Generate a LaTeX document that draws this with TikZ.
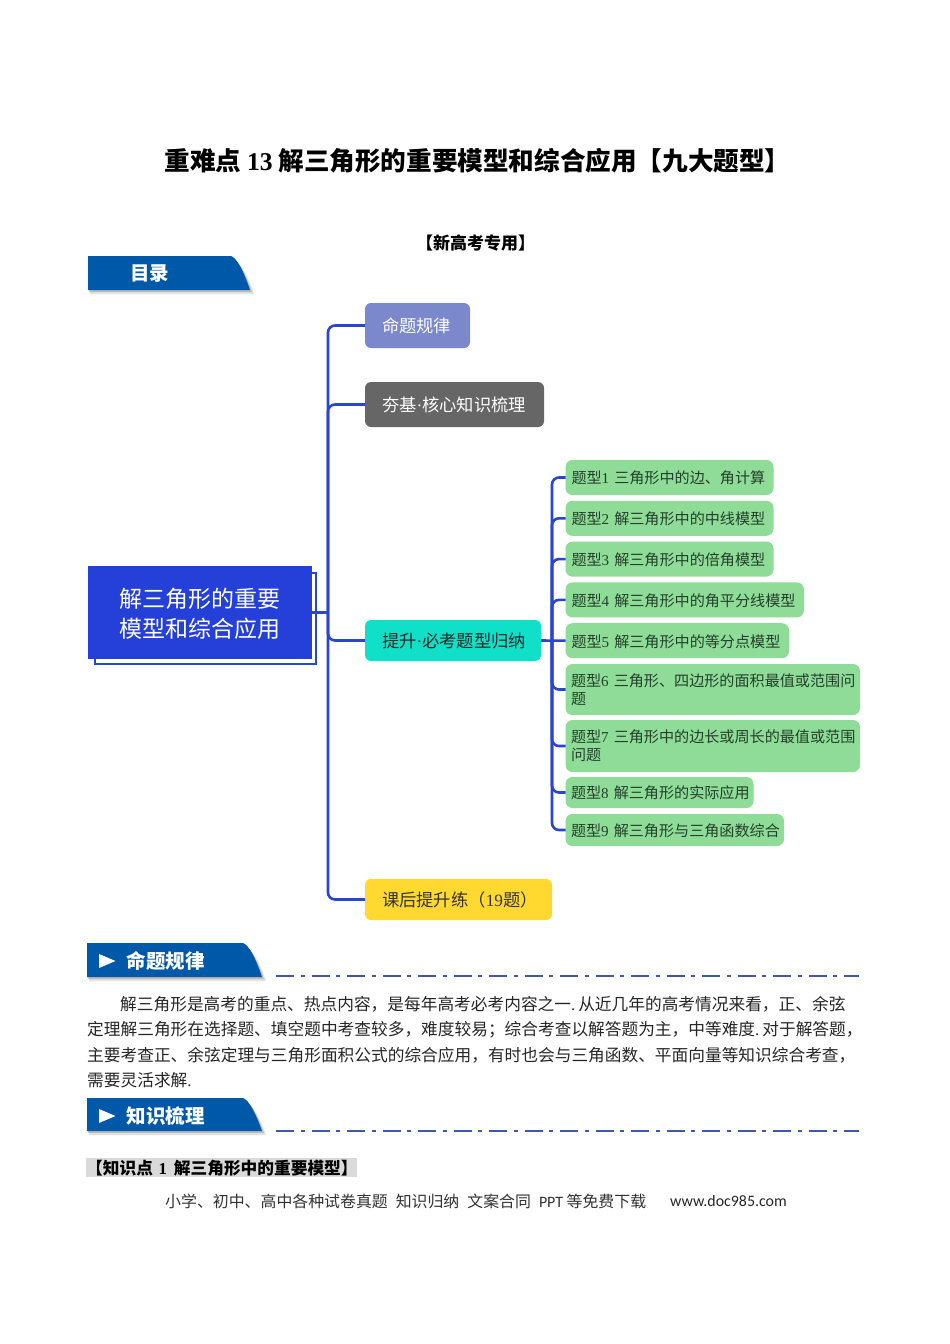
\documentclass[tikz,border=0pt]{standalone}
\usepackage{fontspec}
\setmainfont{Noto Sans CJK SC}
\newfontfamily\serifnum{Liberation Serif}
\newfontfamily\webfont{Carlito}
\usetikzlibrary{positioning}
\definecolor{linkblue}{HTML}{2A45D0}
\definecolor{rootblue}{HTML}{2440D8}
\definecolor{ribbonblue}{HTML}{0058A8}
\definecolor{dashblue}{HTML}{3F58A8}
\definecolor{rulefill}{HTML}{7C88CC}
\definecolor{corefill}{HTML}{666666}
\definecolor{typesfill}{HTML}{10E0C8}
\definecolor{drillfill}{HTML}{FFD92F}
\definecolor{itemfill}{HTML}{8EDC98}
\definecolor{itemtext}{HTML}{24402A}
\definecolor{notefill}{HTML}{DADADA}
\tikzset{
  mainbox/.style 2 args={rounded corners=6pt, inner xsep=17pt, inner ysep=0pt, outer sep=0pt, text width=#1pt-34pt, minimum height=#2pt, align=left, font=\fontsize{17.3}{20}\selectfont, execute at begin node={\vspace*{-2pt}}},
  itembox/.style 2 args={fill=itemfill, text=itemtext, rounded corners=7pt, inner xsep=6pt, inner ysep=0pt, outer sep=0pt, text width=#1pt-12pt, minimum height=#2pt, align=left, font=\fontsize{15.1}{20}\selectfont, execute at begin node={\vspace*{-2pt}}},
  link/.style={draw=linkblue, line width=2.6pt},
  linkbend/.style={link, rounded corners=7pt},
  headtext/.style={text=white, inner sep=0pt, font=\fontsize{19.5}{22}\selectfont\bfseries},
  dashrule/.style={draw=dashblue, line width=2.4pt, dash pattern=on 18pt off 6.5pt on 4pt off 7pt},
}
\newcommand{\num}[1]{{\serifnum #1}}
% x left, y top, y bottom, x right
\newcommand{\ribbon}[4]{
  \fill[black!45, opacity=.25] (#1+2,#2+4) -- (#4-16,#2+4) .. controls (#4-10,#2+6) and (#4-2,#2+20) .. (#4+4,#3+4) -- (#1+2,#3+4) -- cycle;
  \fill[black!45, opacity=.45] (#1+1,#2+2) -- (#4-18,#2+2) .. controls (#4-12,#2+4) and (#4-4,#2+18) .. (#4+2,#3+2) -- (#1+1,#3+2) -- cycle;
  \fill[ribbonblue] (#1,#2) -- (#4-19,#2) .. controls (#4-13,#2+2) and (#4-6,#2+16) .. (#4,#3) -- (#1,#3) -- cycle;
}
\begin{document}
\begin{tikzpicture}[x=1pt,y=-1pt]
  \useasboundingbox[fill=white] (0,0) rectangle (950,1344);

  \node (title) at (477.5,160.5) {\fontsize{25.6}{28}\selectfont\bfseries 重难点 {\serifnum 13} 解三角形的重要模型和综合应用【九大题型】};
  \node (subtitle) at (475.5,243) {\fontsize{17}{18}\selectfont\bfseries 【新高考专用】};

  \ribbon{88}{256}{290}{250}
  \node[headtext] (toc) at (149.5,274) {目录};

  % tree
  \coordinate (trunk) at (328,612.5);
  \coordinate (subtrunk) at (552,640.5);

  \node[draw=linkblue, line width=2pt, fill=white, inner sep=0pt, outer sep=0pt, minimum width=221pt, minimum height=91pt] (rootback) at (205.5,618.5) {};
  \node[fill=rootblue, text=white, inner sep=0pt, outer sep=0pt, minimum width=224pt, minimum height=93pt, align=center, font=\fontsize{23}{30}\selectfont] (root) at (200,612.5) {\smash{\raisebox{-10pt}{解三角形的重要}}\\\smash{\raisebox{-10pt}{模型和综合应用}}};

  \node[mainbox={105}{45}, fill=rulefill, text=white, anchor=north west] (rule) at (365,303) {\mbox{命题规律}};
  \node[mainbox={179}{45}, fill=corefill, text=white, below=34pt of rule.south west, anchor=north west] (core) {\mbox{夯基\num{·}核心知识梳理}};
  \node[mainbox={176}{41}, fill=typesfill, text=black!85, below=193pt of core.south west, anchor=north west] (types) {\mbox{提升\num{·}必考题型归纳}};
  \node[mainbox={187}{41}, fill=drillfill, text=black!80, below=218pt of types.south west, anchor=north west] (drill) {\mbox{课后提升练（\num{19}题）}};

  \node[itembox={208}{35}, anchor=north west] (t1) at (565.5,460) {\mbox{题型\num{1} 三角形中的边、角计算}};
  \node[itembox={208}{35}, below=5.8pt of t1.south west, anchor=north west] (t2) {\mbox{题型\num{2} 解三角形中的中线模型}};
  \node[itembox={208}{35}, below=5.8pt of t2.south west, anchor=north west] (t3) {\mbox{题型\num{3} 解三角形中的倍角模型}};
  \node[itembox={238.5}{35}, below=5.8pt of t3.south west, anchor=north west] (t4) {\mbox{题型\num{4} 解三角形中的角平分线模型}};
  \node[itembox={223.5}{35}, below=5.8pt of t4.south west, anchor=north west] (t5) {\mbox{题型\num{5} 解三角形中的等分点模型}};
  \node[itembox={295.5}{51}, inner xsep=5.5pt, below=5.8pt of t5.south west, anchor=north west] (t6) {\mbox{题型\num{6} 三角形、四边形的面积最值或范围问}\\题};
  \node[itembox={295.5}{52}, inner xsep=5.5pt, below=5pt of t6.south west, anchor=north west] (t7) {\mbox{题型\num{7} 三角形中的边长或周长的最值或范围}\\问题};
  \node[itembox={189}{31}, inner xsep=5.5pt, below=5pt of t7.south west, anchor=north west] (t8) {\mbox{题型\num{8} 解三角形的实际应用}};
  \node[itembox={219.5}{32}, inner xsep=5.5pt, below=6pt of t8.south west, anchor=north west] (t9) {\mbox{题型\num{9} 解三角形与三角函数综合}};

  \draw[link] (root.east) -- (trunk);
  \draw[linkbend] (trunk) |- (rule.west);
  \draw[linkbend] (trunk) |- (core.west);
  \draw[linkbend] (trunk) |- (types.west);
  \draw[linkbend] (trunk) |- (drill.west);
  \draw[link] (types.east) -- (t5.west);
  \draw[linkbend] (subtrunk) |- (t1.west);
  \draw[linkbend] (subtrunk) |- (t2.west);
  \draw[linkbend] (subtrunk) |- (t3.west);
  \draw[linkbend] (subtrunk) |- (t4.west);
  \draw[linkbend] (subtrunk) |- (t6.west);
  \draw[linkbend] (subtrunk) |- (t7.west);
  \draw[linkbend] (subtrunk) |- (t8.west);
  \draw[linkbend] (subtrunk) |- (t9.west);

  % sections
  \ribbon{87}{943}{977}{262}
  \fill[white] (99,954) -- (115.5,961) -- (99,968) -- cycle;
  \node[headtext] (lawhead) at (165.5,961) {命题规律};
  \coordinate (lawa) at (276,976);
  \coordinate (lawb) at (859,976);
  \draw[dashrule] (lawa) -- (lawb);

  \node[anchor=north west, inner sep=0pt, text width=790pt, align=left, text=black!85, font=\fontsize{16.7}{25.3}\selectfont] (law) at (87,996) {\hspace*{33pt}解三角形是高考的重点、热点内容，是每年高考必考内容之一\num{.}\hspace{3pt}从近几年的高考情况来看，正、余弦\\定理解三角形在选择题、填空题中考查较多，难度较易；综合考查以解答题为主，中等难度\num{.}\hspace{3pt}对于解答题，\\主要考查正、余弦定理与三角形面积公式的综合应用，有时也会与三角函数、平面向量等知识综合考查，\\需要灵活求解\num{.}};

  \ribbon{87}{1098}{1131}{262}
  \fill[white] (99,1109) -- (115.5,1116) -- (99,1123) -- cycle;
  \node[headtext] (sumhead) at (165.5,1116) {知识梳理};
  \coordinate (suma) at (276,1131);
  \coordinate (sumb) at (859,1131);
  \draw[dashrule] (suma) -- (sumb);

  \node[anchor=west, fill=notefill, inner xsep=0pt, inner ysep=0pt, minimum height=19pt, text width=271pt, font=\fontsize{16.7}{18}\selectfont\bfseries, execute at begin node={\vspace*{-3pt}}] (note) at (86,1167.5) {\mbox{【知识点 \num{1}\hspace{7pt}解三角形中的重要模型】}};

  \node[anchor=west, inner sep=0pt, text=black!80, font=\fontsize{15.9}{18}\selectfont] (foot) at (165,1201) {小学、初中、高中各种试卷真题\hspace{8pt}知识归纳\hspace{8pt}文案合同\hspace{8pt}{\webfont PPT} 等免费下载};
  \node[anchor=west, inner sep=0pt, font=\webfont\fontsize{15.9}{18}\selectfont, text=black!85] (site) at (670,1201) {www.doc985.com};
\end{tikzpicture}
\end{document}
